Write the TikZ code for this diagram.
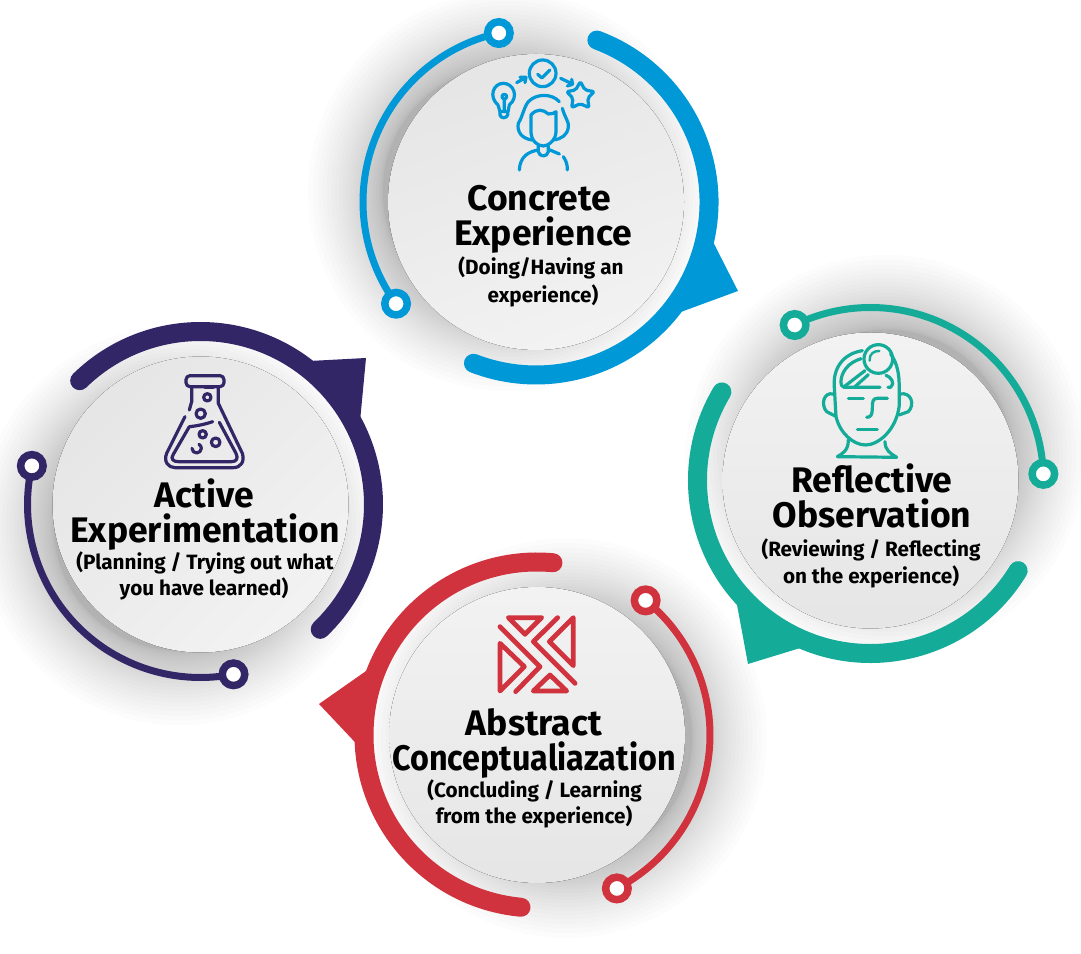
\documentclass[tikz,border=0pt]{standalone}
\usepackage{fontspec}
\setmainfont{Fira Sans}
\usetikzlibrary{calc}

\definecolor{ringblue}{HTML}{0098D7}
\definecolor{ringteal}{HTML}{14AB98}
\definecolor{ringpurple}{HTML}{332667}
\definecolor{ringred}{HTML}{D0333D}

\begin{document}
\begin{tikzpicture}[x=1pt, y=1pt,
    thickarc/.style={line width=19pt, line cap=round},
    thinarc/.style={line width=7pt},
    enddot/.style={circle, fill=white, line width=7.5pt, minimum size=22.5pt, inner sep=0pt},
    iconline/.style={line width=3.2pt, line cap=round, line join=round},
    titletext/.style={anchor=base, font=\fontsize{35.5}{35.5}\bfseries},
    subtext/.style={anchor=base, font=\fontsize{20.7}{20.7}\bfseries}
]
    \useasboundingbox (0,0) rectangle (1081,953);

    % Ring centres
    \coordinate (blue) at (536,751);
    \coordinate (teal) at (870.5,472.5);
    \coordinate (purple) at (200.5,448.5);
    \coordinate (red) at (537,218);

    % Shadows first (stacked faint circles, they all sit under the rings)
    \foreach \ring/\shadowdir in {blue/159, teal/59, purple/224, red/-6} {
        \foreach \i in {0,...,30} {
            \fill[black, opacity=0.011] ($(\ring)+(\shadowdir:30)$) circle ({125+75*(1-\i/30)*(1-\i/30)});
        }
    }

    % Rings: thick arc, pointer, thin arc, end dots, disc
    \foreach \ring/\col/\ta/\tb/\na/\nb/\wa/\wb/\tipx/\tipy/\discangle in {
        blue/ringblue/69.4/-111.2/102.4/216/-12.7/-37.4/738/662/200,
        teal/ringteal/149.2/328.6/116/2.2/222.5/247.3/748/289/0,
        purple/ringpurple/134.3/-46.2/167.1/281/52.3/28.3/366/595/225,
        red/ringred/84.7/264.7/51.1/-62.5/159/182.5/319/249/0} {
        \fill[\col] ($(\ring)+(\wa:181.5)$) -- (\tipx,\tipy) -- ($(\ring)+(\wb:181.5)$)
            -- ($(\ring)+(\wb:172)$) -- ($(\ring)+({(\wa+\wb)/2}:172)$) -- ($(\ring)+(\wa:172)$) -- cycle;
        \draw[\col, thickarc] ($(\ring)+(\ta:173)$) arc[start angle=\ta, end angle=\tb, radius=173];
        \draw[\col, thinarc] ($(\ring)+(\na:173)$) arc[start angle=\na, end angle=\nb, radius=173];
        \node[enddot, draw=\col] (\ring-a) at ($(\ring)+(\na:173)$) {};
        \node[enddot, draw=\col] (\ring-b) at ($(\ring)+(\nb:173)$) {};
        \fill[top color=black!5, bottom color=black!10, shading angle=\discangle] (\ring) circle (148);
    }

    % Concrete Experience
    \node[titletext] (blue-title-a) at (539,742) {Concrete};
    \node[titletext] (blue-title-b) at (543,707) {Experience};
    \node[subtext] (blue-sub-a) at (541,678) {(Doing/Having an};
    \node[subtext] (blue-sub-b) at (543,650) {experience)};

    % Reflective Observation
    \node[titletext] (teal-title-a) at (872,460) {Reflective};
    \node[titletext] (teal-title-b) at (872,425) {Observation};
    \node[subtext] (teal-sub-a) at (871,396) {(Reviewing / Reflecting};
    \node[subtext] (teal-sub-b) at (871,369) {on the experience)};

    % Active Experimentation
    \node[titletext] (purple-title-a) at (204,445) {Active};
    \node[titletext] (purple-title-b) at (205,410) {Experimentation};
    \node[subtext] (purple-sub-a) at (205,383) {(Planning / Trying out what};
    \node[subtext] (purple-sub-b) at (204,357) {you have learned)};

    % Abstract Conceptualiazation
    \node[titletext] (red-title-a) at (534,217) {Abstract};
    \node[titletext] (red-title-b) at (534,182) {\scalebox{0.91}[1]{Conceptualiazation}};
    \node[subtext] (red-sub-a) at (534.5,155) {(Concluding / Learning};
    \node[subtext] (red-sub-b) at (534,129) {from the experience)};

    % Person icon (local units are a third of a pixel, y down)
    \begin{scope}[shift={(470,913)}, x=0.3333pt, y=-0.3333pt, ringblue, iconline]
        \draw (218,100) circle (40);
        \draw (203,103) -- (216,114) -- (240,90);
        \draw (140,128) -- (165,114) (150,112) -- (168,112) -- (165,128);
        \draw (272,115) -- (307,132) (292,138) -- (308,133) -- (305,118);
        \draw[rounded corners=2pt] (331,125) -- (345,150) -- (373,155) -- (353,175) -- (357,203)
            -- (331,191) -- (305,203) -- (309,175) -- (290,155) -- (317,150) -- cycle;
        \draw (84,195) .. controls (55,170) and (70,130) .. (100,130)
            .. controls (130,130) and (148,170) .. (118,195) -- (114,215) -- (90,215) -- (84,195);
        \draw (90,215) -- (90,225) .. controls (92,236) and (110,236) .. (113,225) -- (113,215);
        \draw (103,170) circle (7) (103,178) -- (103,215);
        \draw (268,185) .. controls (245,160) and (200,160) .. (175,185)
            .. controls (160,205) and (160,225) .. (145,250)
            .. controls (140,275) and (155,295) .. (185,300);
        \draw (277,205) .. controls (285,235) and (298,245) .. (295,262)
            .. controls (292,285) and (275,297) .. (250,300);
        \draw (183,225) .. controls (200,205) and (220,208) .. (235,222) .. controls (245,222) and (255,220) .. (258,215)
            -- (258,275) .. controls (258,300) and (235,318) .. (220,318)
            .. controls (200,318) and (183,300) .. (183,275) -- cycle;
        \draw (205,318) -- (205,335) .. controls (208,352) and (232,352) .. (235,335) -- (235,318);
        \draw (148,390) .. controls (150,350) and (175,335) .. (205,330);
        \draw (235,328) -- (268,342);
        \draw (280,350) .. controls (290,365) and (292,375) .. (292,390);
    \end{scope}

    % Head icon
    \begin{scope}[shift={(800,623)}, x=0.3333pt, y=-0.3333pt, ringteal, iconline]
        \draw (235,87) circle (43);
        \draw[line width=2.4pt] (209,92) .. controls (207,72) and (222,62) .. (238,63);
        \draw (103,172) .. controls (98,120) and (125,72) .. (187,62);
        \draw (272,72) .. controls (292,100) and (298,130) .. (298,180) -- (298,225)
            .. controls (290,300) and (235,345) .. (197,345)
            .. controls (160,345) and (120,310) .. (108,260) -- (103,172);
        \draw (100,192) .. controls (70,185) and (62,225) .. (80,245) -- (105,258);
        \draw (300,192) .. controls (335,185) and (345,225) .. (325,245) -- (297,255);
        \draw (145,205) -- (190,205);
        \draw (262,205) -- (232,205) .. controls (218,205) and (217,215) .. (217,235)
            .. controls (217,255) and (212,262) .. (200,262);
        \draw (172,298) -- (232,298);
        \draw (145,330) .. controls (145,360) and (130,370) .. (112,380) -- (290,382)
            .. controls (270,370) and (255,360) .. (255,335);
        \draw (240,172) -- (132,172) .. controls (120,172) and (118,140) .. (138,115)
            .. controls (150,100) and (165,92) .. (183,86);
        \draw (195,122) -- (135,168) (205,134) -- (165,170);
        \draw (264,172) -- (272,172) .. controls (287,160) and (272,140) .. (258,136);
    \end{scope}

    % Flask icon
    \begin{scope}[shift={(150,588)}, x=0.3333pt, y=-0.3333pt, ringpurple, iconline]
        \draw[rounded corners=4pt] (108,32) rectangle (222,65);
        \draw (125,65) -- (125,110) -- (118,135);
        \draw (165,68) -- (190,68);
        \draw (205,65) -- (205,115) -- (277,265) .. controls (285,290) and (272,308) .. (250,308)
            -- (75,308) .. controls (55,308) and (40,290) .. (50,265) -- (105,155);
        \draw (118,185) -- (70,268) .. controls (60,282) and (70,290) .. (85,290) -- (245,290)
            .. controls (260,290) and (265,280) .. (258,265) -- (208,172);
        \draw (118,185) .. controls (140,183) and (165,178) .. (188,170);
        \draw (172,97) circle (11);
        \draw (152,146) circle (14);
        \draw (158,208) circle (11);
        \draw (197,232) circle (13);
        \draw (126,250) arc[start angle=180, end angle=-60, radius=14];
    \end{scope}

    % Abstract icon
    \begin{scope}[shift={(485,348)}, x=0.3333pt, y=-0.3333pt, ringred, line width=4.8pt, line cap=round, line join=round]
        \draw (70,38) -- (170,38) -- (120,88) -- cycle;
        \draw (265,38) -- (265,182) -- (193,110) -- cycle;
        \draw (45,115) -- (45,258) -- (118,185) -- cycle;
        \draw (145,258) -- (245,258) -- (195,210) -- cycle;
        \draw (45,65) -- (165,185) -- (92,260);
        \draw (218,38) -- (145,110) -- (270,235);
    \end{scope}

\end{tikzpicture}
\end{document}
